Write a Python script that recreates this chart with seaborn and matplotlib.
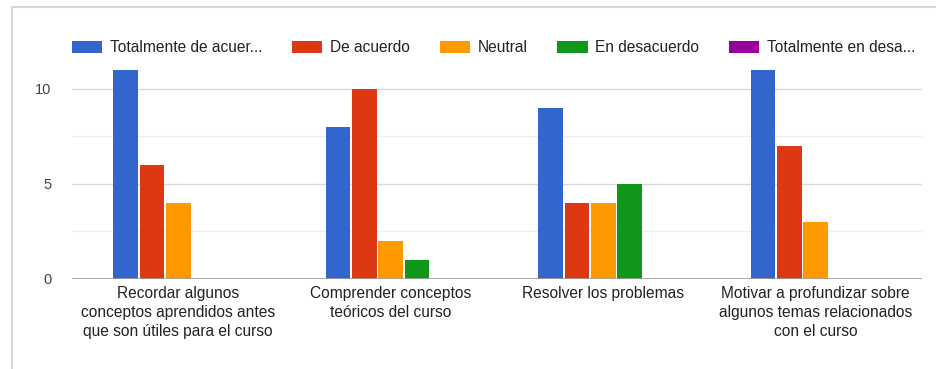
import matplotlib
matplotlib.use("Agg")
import matplotlib.pyplot as plt
from matplotlib.lines import Line2D
import pandas as pd
import seaborn as sns

# Survey data: number of answers per statement and agreement level
categorias = [
    "Recordar algunos\nconceptos aprendidos antes\nque son útiles para el curso",
    "Comprender conceptos\nteóricos del curso",
    "Resolver los problemas",
    "Motivar a profundizar sobre\nalgunos temas relacionados\ncon el curso",
]
respuestas = [
    "Totalmente de acuerdo",
    "De acuerdo",
    "Neutral",
    "En desacuerdo",
    "Totalmente en desacuerdo",
]
etiquetas_leyenda = [
    "Totalmente de acuer...",
    "De acuerdo",
    "Neutral",
    "En desacuerdo",
    "Totalmente en desa...",
]
totalmente_de_acuerdo = [11, 8, 9, 11]
de_acuerdo = [6, 10, 4, 7]
neutral = [4, 2, 4, 3]
en_desacuerdo = [0, 1, 5, 0]
totalmente_en_desacuerdo = [0, 0, 0, 0]
colores = ["#3366cc", "#dc3912", "#ff9900", "#109618", "#990099"]
y_ticks = [0, 5, 10]

series = [totalmente_de_acuerdo, de_acuerdo, neutral, en_desacuerdo,
          totalmente_en_desacuerdo]
filas = []
for resp, valores in zip(respuestas, series):
    for cat, v in zip(categorias, valores):
        filas.append({"categoria": cat, "respuesta": resp, "valor": v})
df = pd.DataFrame(filas)

sns.set_theme(style="white")
plt.rcParams["font.family"] = ["Liberation Sans", "DejaVu Sans"]

fig = plt.figure(figsize=(9.36, 3.69), dpi=100)
ax = fig.add_axes([72 / 936, 1 - 279 / 369, 850 / 936, (279 - 60) / 369])

sns.barplot(
    data=df, x="categoria", y="valor", hue="respuesta",
    order=categorias, hue_order=respuestas,
    palette=colores, saturation=1, width=0.62, gap=0.06,
    linewidth=0, ax=ax,
)

handles, _ = ax.get_legend_handles_labels()
if ax.legend_ is not None:
    ax.legend_.remove()

ax.set_xlim(-0.5, len(categorias) - 0.5)
ax.set_ylim(0, 11.5)
ax.set_yticks(y_ticks)
ax.set_yticks([2.5, 7.5], minor=True)
ax.grid(axis="y", which="major", color="#d9d9d9", linewidth=1)
ax.grid(axis="y", which="minor", color="#efefef", linewidth=1)
ax.set_axisbelow(True)
ax.axhline(0, color="#9e9e9e", linewidth=1.2, zorder=3)
for s in ax.spines.values():
    s.set_visible(False)
ax.set_xlabel("")
ax.set_ylabel("")
ax.tick_params(axis="both", which="both", length=0)
ax.tick_params(axis="y", pad=15, labelsize=10.5, labelcolor="#444444")
ax.tick_params(axis="x", pad=5, labelsize=11.2, labelcolor="#222222")
for lbl in ax.get_xticklabels():
    lbl.set_linespacing(1.33)
    lbl.set_horizontalalignment("center")

fig.legend(
    handles, etiquetas_leyenda,
    loc="center left", bbox_to_anchor=(72 / 936, 1 - 48 / 369),
    ncol=5, frameon=False, fontsize=11.2,
    handlelength=1.95, handleheight=0.75, handletextpad=0.5,
    columnspacing=1.9, borderpad=0, borderaxespad=0,
    labelcolor="#222222",
)

# card border (top and left edges)
fig.add_artist(Line2D([12 / 936, 1], [1 - 7 / 369, 1 - 7 / 369],
                      transform=fig.transFigure, color="#d6d6d6", linewidth=1.5))
fig.add_artist(Line2D([12 / 936, 12 / 936], [0, 1 - 7 / 369],
                      transform=fig.transFigure, color="#d6d6d6", linewidth=1.5))

fig.savefig("out.png", dpi=100, facecolor="white")
